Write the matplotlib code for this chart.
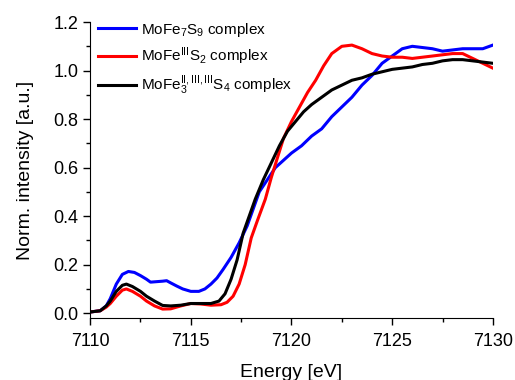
import matplotlib
matplotlib.use("Agg")
import matplotlib.pyplot as plt
from matplotlib.ticker import MultipleLocator

plt.rcParams['font.family'] = ['Liberation Sans', 'DejaVu Sans']
plt.rcParams['mathtext.fontset'] = 'custom'
plt.rcParams['mathtext.rm'] = 'Liberation Sans'
plt.rcParams['mathtext.it'] = 'Liberation Sans'

blue_x = [7110.0, 7110.5, 7110.8, 7111.0, 7111.3, 7111.6, 7111.9, 7112.2, 7112.5, 7112.8, 7113.0,
          7113.3, 7113.6, 7113.8, 7114.0, 7114.3, 7114.6, 7115.0, 7115.4, 7115.7, 7116.0, 7116.3,
          7116.6, 7117.0, 7117.4, 7117.8, 7118.1, 7118.4, 7118.8, 7119.2, 7119.6, 7120.0, 7120.5,
          7121.0, 7121.5, 7122.0, 7122.5, 7123.0, 7123.5, 7124.0, 7124.5, 7125.0, 7125.5, 7126.0,
          7126.5, 7127.0, 7127.5, 7128.0, 7128.5, 7129.0, 7129.5, 7130.0]
blue_y = [0.005, 0.01, 0.03, 0.06, 0.12, 0.16, 0.172, 0.168, 0.155, 0.14, 0.128,
          0.13, 0.132, 0.134, 0.125, 0.112, 0.100, 0.09, 0.09, 0.10, 0.12, 0.145,
          0.18, 0.23, 0.29, 0.36, 0.43, 0.50, 0.55, 0.60, 0.63, 0.66, 0.69,
          0.73, 0.76, 0.81, 0.85, 0.89, 0.94, 0.98, 1.03, 1.06, 1.09, 1.10,
          1.095, 1.09, 1.08, 1.085, 1.09, 1.09, 1.09, 1.105]

red_x = [7110.0, 7110.5, 7110.8, 7111.0, 7111.3, 7111.6, 7111.8, 7112.1, 7112.5, 7112.8, 7113.2,
         7113.6, 7114.0, 7114.5, 7115.0, 7115.5, 7116.0, 7116.5, 7116.8, 7117.1, 7117.4, 7117.7,
         7118.0, 7118.3, 7118.7, 7119.0, 7119.3, 7119.6, 7120.0, 7120.4, 7120.8, 7121.2, 7121.6,
         7122.0, 7122.5, 7123.0, 7123.5, 7124.0, 7124.5, 7125.0, 7125.5, 7126.0, 7126.5, 7127.0,
         7127.5, 7128.0, 7128.5, 7129.0, 7129.5, 7130.0]
red_y = [0.005, 0.01, 0.025, 0.04, 0.07, 0.095, 0.10, 0.09, 0.07, 0.05, 0.03,
         0.017, 0.018, 0.03, 0.04, 0.038, 0.033, 0.035, 0.045, 0.07, 0.12, 0.2,
         0.31, 0.38, 0.47, 0.56, 0.64, 0.72, 0.79, 0.85, 0.91, 0.96, 1.02,
         1.07, 1.10, 1.105, 1.09, 1.07, 1.06, 1.055, 1.055, 1.05, 1.055, 1.06,
         1.065, 1.07, 1.07, 1.05, 1.03, 1.01]

black_x = [7110.0, 7110.5, 7110.8, 7111.0, 7111.3, 7111.6, 7111.8, 7112.1, 7112.5, 7112.8, 7113.2,
           7113.6, 7114.0, 7114.5, 7115.0, 7115.5, 7116.0, 7116.4, 7116.7, 7117.0, 7117.3, 7117.6,
           7117.9, 7118.2, 7118.6, 7119.0, 7119.4, 7119.8, 7120.2, 7120.6, 7121.0, 7121.5, 7122.0,
           7122.5, 7123.0, 7123.5, 7124.0, 7124.5, 7125.0, 7125.5, 7126.0, 7126.5, 7127.0, 7127.5,
           7128.0, 7128.5, 7129.0, 7129.5, 7130.0]
black_y = [0.005, 0.01, 0.03, 0.05, 0.09, 0.115, 0.12, 0.11, 0.09, 0.07, 0.05,
           0.032, 0.03, 0.033, 0.04, 0.04, 0.04, 0.05, 0.08, 0.14, 0.22, 0.33,
           0.40, 0.47, 0.55, 0.62, 0.69, 0.75, 0.79, 0.83, 0.86, 0.89, 0.92,
           0.94, 0.96, 0.97, 0.985, 0.995, 1.005, 1.01, 1.015, 1.025, 1.03, 1.04,
           1.045, 1.045, 1.04, 1.035, 1.03]

labels = [r'MoFe$_7$S$_9$ complex',
          r'MoFe$^{\mathrm{III}}$S$_2$ complex',
          r'MoFe$_3^{\mathrm{II,III,III}}$S$_4$ complex']

fig = plt.figure(figsize=(5.15, 3.8), dpi=100)
ax = fig.add_axes([0.175, 0.163, 0.782, 0.779])
ax.plot(blue_x, blue_y, color='#0000ff', lw=2.2, label=labels[0])
ax.plot(red_x, red_y, color='#ff0000', lw=2.2, label=labels[1])
ax.plot(black_x, black_y, color='#000000', lw=2.2, label=labels[2])

ax.set_xlim(7110, 7130)
ax.set_ylim(-0.02, 1.2)
ax.xaxis.set_major_locator(MultipleLocator(5))
ax.xaxis.set_minor_locator(MultipleLocator(2.5))
ax.yaxis.set_major_locator(MultipleLocator(0.2))
ax.yaxis.set_minor_locator(MultipleLocator(0.1))
ax.yaxis.set_major_formatter(matplotlib.ticker.FormatStrFormatter('%.1f'))
ax.spines['top'].set_visible(False)
ax.spines['right'].set_visible(False)
ax.tick_params(which='major', direction='out', length=5, width=1, labelsize=13)
ax.tick_params(which='minor', direction='out', length=3, width=1)
ax.tick_params(axis='x', which='major', pad=6)
ax.set_xlabel('Energy [eV]', fontsize=14, labelpad=10)
ax.set_ylabel('Norm. intensity [a.u.]', fontsize=14, labelpad=14)

ax.legend(loc='upper left', frameon=False, fontsize=11, handlelength=2.5,
          borderaxespad=0.1, labelspacing=0.45, handletextpad=0.3,
          bbox_to_anchor=(0.0, 1.03))

fig.savefig('out.png', dpi=100)
